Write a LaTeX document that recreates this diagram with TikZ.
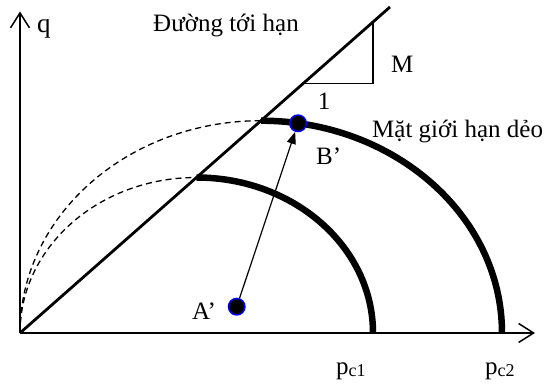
\documentclass[tikz,border=0pt]{standalone}
\usepackage{fontspec}
\setmainfont{Liberation Serif}
\usetikzlibrary{arrows.meta}
\begin{document}
\begin{tikzpicture}[x=1pt,y=1pt,
  axis/.style={line width=1.5pt,-{Straight Barb[length=15pt,width=19pt,line width=1.5pt]}},
  csl/.style={line width=2.8pt},
  yield/.style={line width=6.5pt},
  guide/.style={line width=1.3pt,dash pattern=on 6pt off 4pt},
  tri/.style={line width=1.3pt},
  lbl/.style={font=\fontsize{25}{30}\selectfont,inner sep=0pt},
  dot/.style={circle,fill=black,draw=blue,line width=1.5pt,minimum size=16.5pt,inner sep=0pt},
  move/.style={line width=1.2pt,-{Triangle[length=12pt,width=9pt]}}]
\useasboundingbox (0,0) rectangle (547,385);
% axes
\coordinate (O) at (20,52);
\coordinate (Ytop) at (20,373.5);
\coordinate (Xend) at (535,52);
\draw[axis] (O) -- (Ytop);
\draw[axis] (O) -- (Xend);
% critical state line
\coordinate (Cend) at (390,378);
\draw[csl] (O) -- (Cend);
% slope triangle
\coordinate (T1) at (373,363);
\coordinate (T2) at (373,301.7);
\coordinate (T3) at (301,301.7);
\draw[tri] (T1) -- (T2) -- (T3);
% yield surfaces (ellipses)
\coordinate (Top1) at (196.5,207.5);
\coordinate (Top2) at (261,264.3);
\draw[guide] (O) arc[start angle=180,end angle=90,x radius=176.5pt,y radius=155.5pt];
\draw[guide] (O) arc[start angle=180,end angle=90,x radius=241pt,y radius=212.3pt];
\draw[yield] (Top1) arc[start angle=90,end angle=0,x radius=176.5pt,y radius=155.5pt];
\draw[yield] (Top2) arc[start angle=90,end angle=0,x radius=241pt,y radius=212.3pt];
% points
\node[dot] (A) at (236.7,78.3) {};
\node[dot] (B) at (298,261.7) {};
\draw[move] (A) -- (B);
% labels
\node[lbl,anchor=base west,font=\fontsize{27}{30}\selectfont] (q) at (37,352) {q};
\node[lbl,anchor=base west] (csllbl) at (153,353) {Đường tới hạn};
\node[lbl,anchor=base west] (M) at (391,312) {M};
\node[lbl,anchor=base] (one) at (324,275) {1};
\node[lbl,anchor=base west] (ys) at (372,247) {Mặt giới hạn dẻo};
\node[lbl,anchor=base west] (Bl) at (316,220) {B’};
\node[lbl,anchor=base west] (Al) at (192,65) {A’};
\node[lbl,anchor=base west] (pc1) at (336,10) {p\raisebox{-2pt}{\fontsize{18}{20}\selectfont c1}};
\node[lbl,anchor=base west] (pc2) at (485,10) {p\raisebox{-2pt}{\fontsize{18}{20}\selectfont c2}};
\end{tikzpicture}
\end{document}
